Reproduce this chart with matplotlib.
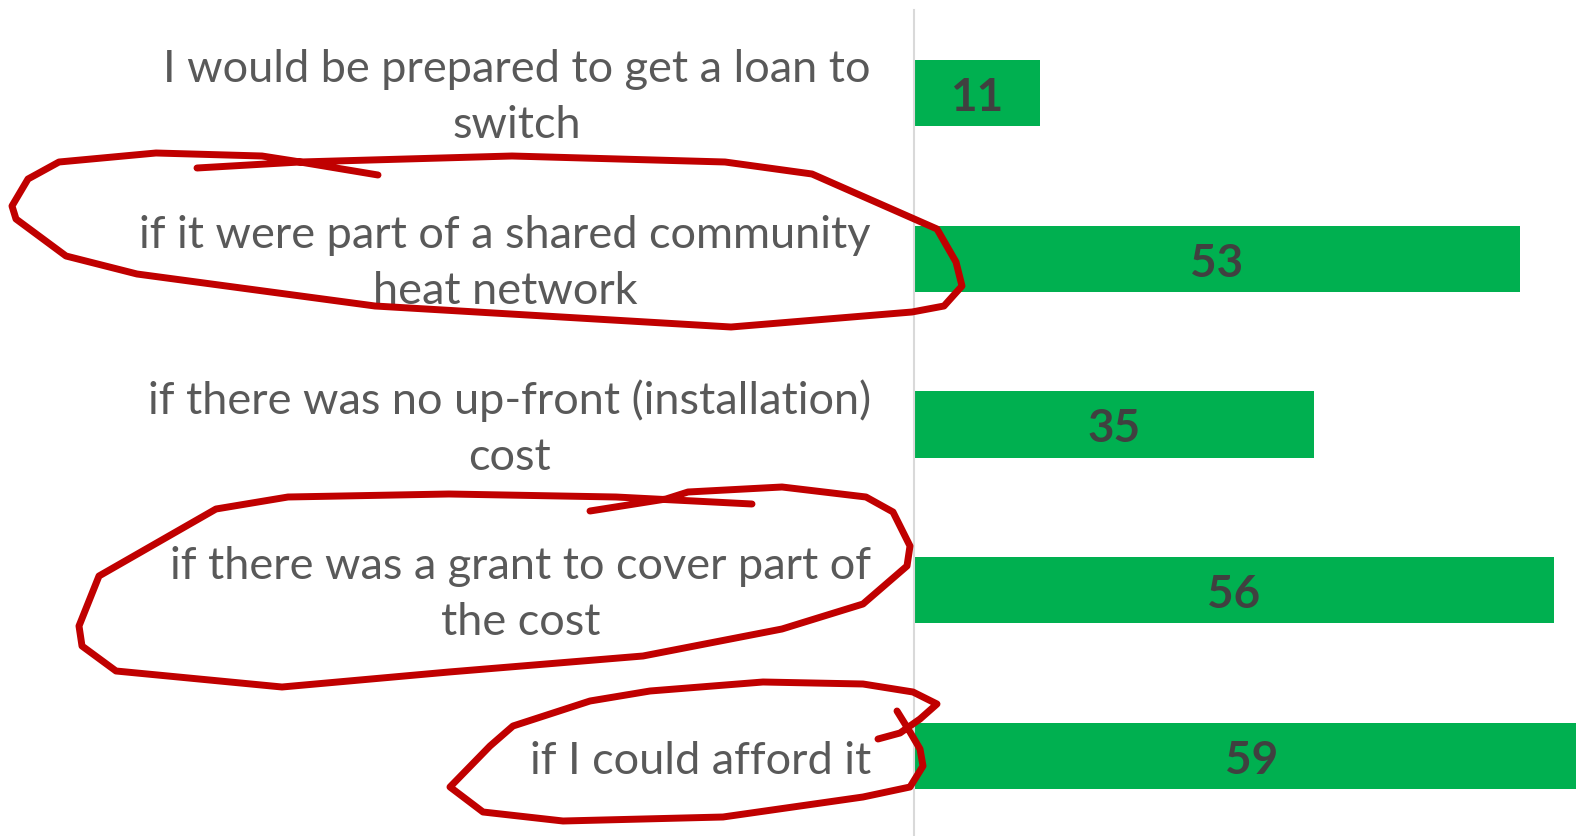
import numpy as np
import matplotlib.pyplot as plt
from matplotlib.path import Path
from matplotlib.patches import PathPatch
from matplotlib.transforms import ScaledTranslation

# Données
categories = [
    "I would be prepared to get a loan to\nswitch",
    "if it were part of a shared community\nheat network",
    "if there was no up-front (installation)\ncost",
    "if there was a grant to cover part of\nthe cost",
    "if I could afford it",
]
values = [11, 53, 35, 56, 59]

# Annotations à main levée (pixels de l'image, y vers le bas)
scribble_1 = [(197, 169), (300, 163), (512, 157), (725, 163), (812, 175), (937, 230),
              (956, 263), (962, 287), (944, 307), (912, 313), (731, 328), (375, 307),
              (137, 275), (66, 257), (16, 220), (12, 207), (28, 180), (59, 163),
              (156, 154), (262, 157), (294, 162), (378, 176)]
scribble_2 = [(590, 512), (666, 500), (688, 493), (782, 488), (866, 498), (893, 513),
              (910, 547), (907, 567), (863, 605), (782, 630), (643, 657), (449, 673),
              (282, 688), (116, 672), (82, 647), (79, 627), (99, 577), (216, 510),
              (288, 498), (449, 495), (616, 498), (752, 505)]
scribble_3 = [(878, 740), (900, 734), (920, 720), (937, 705), (913, 693), (863, 685),
              (763, 683), (650, 692), (590, 702), (513, 727), (490, 747), (450, 788),
              (483, 813), (563, 822), (723, 818), (863, 798), (910, 788), (923, 767),
              (920, 750), (910, 733), (897, 712)]

W, H = 1576, 837
fig = plt.figure(figsize=(W / 100, H / 100), dpi=100)
ax = fig.add_axes([914 / W, 1 - 840 / H, 1 - 914 / W, (840 - 11) / H])

y = np.arange(len(categories))
ax.barh(y, values, height=0.4, color="#00B050")
shift_down = ScaledTranslation(0, -0.04, fig.dpi_scale_trans)
for yi, v in zip(y, values):
    ax.text(v / 2, yi, str(v), ha="center", va="center", fontsize=33,
            fontweight="bold", color="#404040", family="Lato",
            transform=ax.transData + shift_down)

ax.set_xlim(0, (W - 914) / 11.43)
ax.set_ylim(len(categories) - 0.5, -0.5)
ax.set_yticks(y)
ax.set_yticklabels(categories, fontsize=32.5, color="#595959", family="Lato",
                   linespacing=1.45)
ax.tick_params(axis="y", length=0, pad=31)
shift_up = ScaledTranslation(0, 0.08, fig.dpi_scale_trans)
for t in ax.get_yticklabels():
    t.set_multialignment("center")
    if "\n" in t.get_text():
        t.set_transform(t.get_transform() + shift_up)
ax.set_xticks([])
for s in ["top", "right", "bottom"]:
    ax.spines[s].set_visible(False)
ax.spines["left"].set_color("#D9D9D9")
ax.spines["left"].set_linewidth(1.5)

# Cercles rouges
for pts in [scribble_1, scribble_2, scribble_3]:
    p = np.array(pts, dtype=float)
    p[:, 1] = H - p[:, 1]
    path = Path(p)
    fig.add_artist(PathPatch(path, transform=None, fill=False, edgecolor="#C00000",
                             linewidth=5, joinstyle="round", capstyle="round",
                             zorder=10))

fig.savefig("out.png", dpi=100)
